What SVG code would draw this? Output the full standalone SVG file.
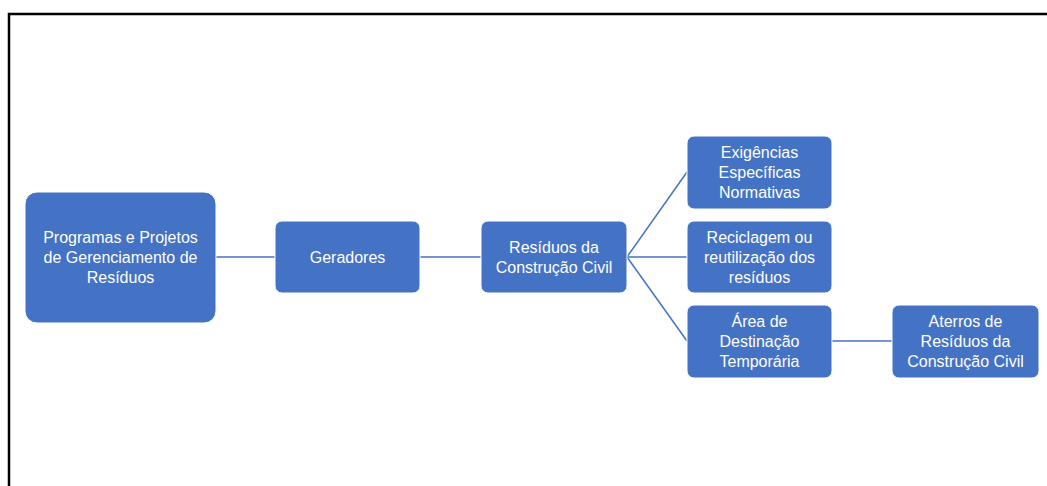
<svg xmlns="http://www.w3.org/2000/svg" width="1047" height="486" viewBox="0 0 1047 486">
<style>
.n{fill:#4472C4;stroke:#ffffff;stroke-width:1}
.t{fill:#ffffff;font-family:"Liberation Sans",Arial,sans-serif;font-size:16px;text-anchor:middle}
.c{stroke:#4472C4;stroke-width:1.5;fill:none}
</style>
<rect width="1047" height="486" fill="#ffffff"/>
<path d="M9 486 V14 H1047" fill="none" stroke="#000" stroke-width="2.5"/>
<g id="connectors">
<line class="c" x1="216" y1="257" x2="275" y2="257"/>
<line class="c" x1="420" y1="257" x2="481" y2="257"/>
<line class="c" x1="627" y1="257" x2="687" y2="172"/>
<line class="c" x1="627" y1="257" x2="687" y2="257"/>
<line class="c" x1="627" y1="257" x2="687" y2="341"/>
<line class="c" x1="832" y1="341" x2="892" y2="341"/>
</g>
<g id="n1"><rect class="n" x="25" y="192" width="191" height="131" rx="12"/>
<text class="t" x="120.5" y="242.5">Programas e Projetos</text>
<text class="t" x="120.5" y="262.5">de Gerenciamento de</text>
<text class="t" x="120.5" y="282.5">Resíduos</text></g>
<g id="n2"><rect class="n" x="275" y="221" width="145" height="72" rx="7"/>
<text class="t" x="347.5" y="262.5">Geradores</text></g>
<g id="n3"><rect class="n" x="481" y="221" width="146" height="72" rx="7"/>
<text class="t" x="554" y="252.5">Resíduos da</text>
<text class="t" x="554" y="272.5">Construção Civil</text></g>
<g id="n4"><rect class="n" x="687" y="136" width="145" height="73" rx="7"/>
<text class="t" x="759.5" y="158">Exigências</text>
<text class="t" x="759.5" y="178">Específicas</text>
<text class="t" x="759.5" y="198">Normativas</text></g>
<g id="n5"><rect class="n" x="687" y="221" width="145" height="72" rx="7"/>
<text class="t" x="759.5" y="242.5">Reciclagem ou</text>
<text class="t" x="759.5" y="262.5">reutilização dos</text>
<text class="t" x="759.5" y="282.5">resíduos</text></g>
<g id="n6"><rect class="n" x="687" y="305" width="145" height="73" rx="7"/>
<text class="t" x="759.5" y="327">Área de</text>
<text class="t" x="759.5" y="347">Destinação</text>
<text class="t" x="759.5" y="367">Temporária</text></g>
<g id="n7"><rect class="n" x="892" y="305" width="147" height="73" rx="7"/>
<text class="t" x="965.5" y="327">Aterros de</text>
<text class="t" x="965.5" y="347">Resíduos da</text>
<text class="t" x="965.5" y="367">Construção Civil</text></g>
</svg>
